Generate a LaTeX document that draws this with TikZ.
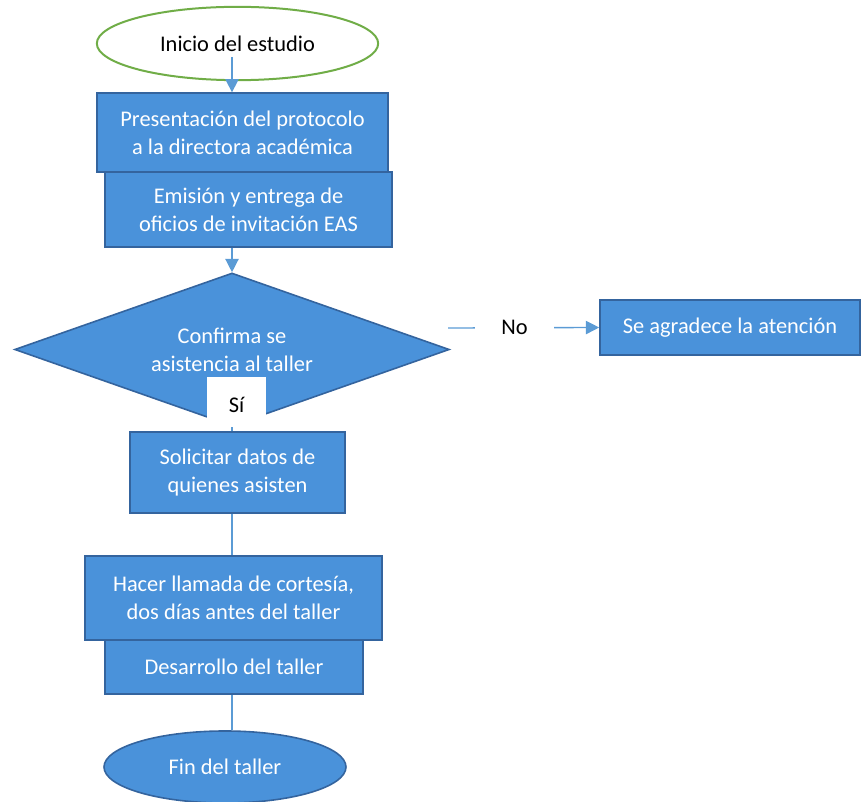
\documentclass[tikz,border=0pt]{standalone}
\usepackage{fontspec}
\setmainfont{Carlito}
\usetikzlibrary{shapes.geometric,arrows.meta}

\begin{document}
\begin{tikzpicture}[x=0.75pt,y=0.75pt,yscale=-1,xscale=1,
  letra/.style={font=\fontsize{16.8}{21}\selectfont},
  paso/.style={letra,draw={rgb,255:red,52;green,100;blue,158},line width=1.2pt,fill={rgb,255:red,74;green,146;blue,218},text=white,align=center,inner sep=2pt},
  linea/.style={draw={rgb,255:red,91;green,155;blue,213},line width=1pt},
  flecha/.style={linea,-{Triangle[width=10pt,length=10pt]}}]
\useasboundingbox (0,0) rectangle (861,802);

%Shape: Ellipse [id:inicio]
\node (ini) [letra,ellipse,draw={rgb,255:red,112;green,173;blue,71},line width=1.5pt,fill=white,minimum width=211pt,minimum height=55pt] at (237.5,43.5) {Inicio del estudio};
%Shape: Rectangle [id:protocolo]
\node (prot) [paso,minimum width=218pt,minimum height=59pt] at (242.5,132.5) {Presentación del protocolo\\a la directora académica};
%Shape: Rectangle [id:oficios]
\node (ofi) [paso,minimum width=215pt,minimum height=56pt] at (248.5,209.5) {Emisión y entrega de\\oficios de invitación EAS};
%Shape: Diamond [id:confirma]
\node (conf) [paso,diamond,aspect=2.84,minimum width=326pt,minimum height=114.75pt] at (232,349.5) {Confirma se\\asistencia al taller};
%Shape: Rectangle [id:si]
\node (si) [letra,fill=white,inner sep=0pt,minimum width=44pt,minimum height=37.5pt,text height=15pt,text depth=0pt] at (236.5,402) {Sí};
%Shape: Rectangle [id:agradece]
\node (agr) [paso,minimum width=195pt,minimum height=41pt] at (730,327.5) {Se agradece la atención};
%Shape: Rectangle [id:solicitar]
\node (sol) [paso,minimum width=161pt,minimum height=61pt] at (237.5,472.5) {Solicitar datos de\\quienes asisten};
%Shape: Rectangle [id:llamada]
\node (llam) [paso,minimum width=223pt,minimum height=63pt] at (233.5,598) {Hacer llamada de cortesía,\\dos días antes del taller};
%Shape: Rectangle [id:desarrollo]
\node (des) [paso,minimum width=193.5pt,minimum height=40.5pt] at (234,667) {Desarrollo del taller};
%Shape: Ellipse [id:fin]
\node (fin) [paso,ellipse,minimum width=181.5pt,minimum height=54pt] at (225,767) {Fin del taller};

%Straight Lines [id:conectores]
\coordinate (inisal) at (232,57);
\coordinate (nosal) at (448,328);
\draw [flecha] (inisal) -- (prot.north -| conf);
\draw [flecha] (ofi.south -| conf) -- (conf.north);
\draw [flecha] (nosal) -- node[letra,pos=0.44,fill=white,inner xsep=20pt] {No} (agr.west);
\draw [linea] (si.south -| conf) -- (sol.north -| conf);
\draw [linea] (sol.south -| conf) -- (llam.north -| conf);
\draw [linea] (des.south -| conf) -- (fin.north -| conf);

\end{tikzpicture}
\end{document}
